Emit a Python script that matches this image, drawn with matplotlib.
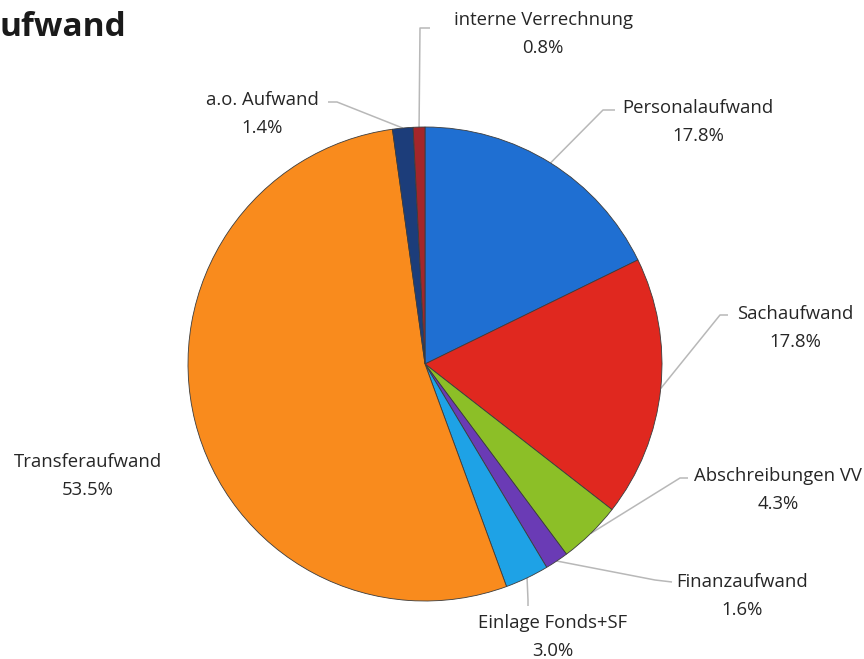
import matplotlib.pyplot as plt
import numpy as np

labels = ['Personalaufwand', 'Sachaufwand', 'Abschreibungen VV', 'Finanzaufwand',
          'Einlage Fonds+SF', 'Transferaufwand', 'a.o. Aufwand', 'interne Verrechnung']
shares = [17.8, 17.8, 4.3, 1.6, 3.0, 53.5, 1.4, 0.8]
colors = ['#1f6fd2', '#e0281f', '#8cbf27', '#6a3bb5', '#1ea2e6', '#f98b1d', '#1c3d7a', '#a3262a']

# label placement in pixels from top-left: text block centre, leader elbow, leader end
label_pos = [(698, 122), (795, 328), (778, 490), (742, 596), (553, 637), (88, 476), (262, 114), (543, 34)]
elbows = [(603, 110), (720, 315), (680, 478), (655, 580), (528, 600), None, (337, 102), (420, 28)]
ends = [(615, 110), (728, 315), (688, 478), (672, 582), (528, 606), None, (328, 102), (430, 28)]

W, H = 864, 659
fig = plt.figure(figsize=(W / 100, H / 100), dpi=100)
ax = fig.add_axes([0, 0, 1, 1])

cx, cy, r = 425, H - 364, 237
wedges, _ = ax.pie(shares, colors=colors, startangle=90, counterclock=False,
                   center=(cx, cy), radius=r, frame=True,
                   wedgeprops=dict(edgecolor='#3c3c3c', linewidth=0.6))
ax.set_xlim(0, W)
ax.set_ylim(0, H)
ax.set_aspect('equal')
ax.axis('off')

txt = '#262626'
for w, lab, val, pos, el, en in zip(wedges, labels, shares, label_pos, elbows, ends):
    ang = np.deg2rad((w.theta1 + w.theta2) / 2)
    rx, ry = cx + r * np.cos(ang), cy + r * np.sin(ang)
    if el is not None:
        ax.plot([rx, el[0], en[0]], [ry, H - el[1], H - en[1]], color='#b8b8b8', lw=1.1,
                solid_capstyle='butt', zorder=0.5)
    ax.text(pos[0], H - pos[1], f'{lab}\n{val:.1f}%', ha='center', va='center',
            fontsize=13.3, color=txt, linespacing=1.7, family='Open Sans')

ax.text(0, H - 27, 'ufwand', ha='left', va='center', fontsize=24, fontweight='bold',
        color='#1a1a1a', family='Open Sans')

fig.savefig('out.png', dpi=100)
